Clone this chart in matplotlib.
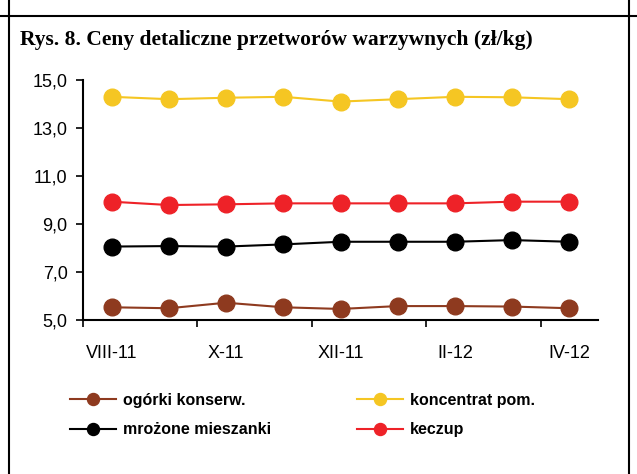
import matplotlib.pyplot as plt
from matplotlib.lines import Line2D
from matplotlib.ticker import FuncFormatter

# months VIII-11 .. IV-12
months = ["VIII-11", "IX-11", "X-11", "XI-11", "XII-11", "I-12", "II-12", "III-12", "IV-12"]
ogorki = [5.53, 5.49, 5.72, 5.53, 5.46, 5.58, 5.58, 5.56, 5.49]
koncentrat = [14.30, 14.20, 14.26, 14.30, 14.10, 14.20, 14.30, 14.28, 14.20]
mrozone = [8.06, 8.08, 8.06, 8.15, 8.26, 8.26, 8.26, 8.33, 8.26]
keczup = [9.93, 9.79, 9.82, 9.86, 9.86, 9.86, 9.86, 9.93, 9.93]

names = ["ogórki konserw.", "koncentrat pom.", "mrożone mieszanki", "keczup"]
colors = ["#8E3A1F", "#F5C623", "#000000", "#EE2228"]

fig = plt.figure(figsize=(6.37, 4.74), dpi=100)
W, H = 637, 474

# frame lines (table cell look)
fig.add_artist(Line2D([9 / W, 9 / W], [0, 1], color="black", lw=1.5))
fig.add_artist(Line2D([629 / W, 629 / W], [0, 1], color="black", lw=1.5))
fig.add_artist(Line2D([0, 1], [1 - 16 / H, 1 - 16 / H], color="black", lw=1.5))

fig.text(20 / W, 1 - 45 / H, "Rys. 8. Ceny detaliczne przetworów warzywnych (zł/kg)",
         family="Liberation Serif", fontweight="bold", fontsize=15.5, va="baseline")

ax = fig.add_axes([83 / W, 1 - 320 / H, (598 - 83) / W, 240 / H])
x = list(range(len(months)))
lines = []
for vals, c, n in zip([ogorki, koncentrat, mrozone, keczup], colors, names):
    ln, = ax.plot(x, vals, color=c, lw=1.5, marker="o", markersize=12, label=n)
    lines.append(ln)

ax.set_xlim(-0.5, len(months) - 0.5)
ax.set_ylim(5, 15)
ax.set_yticks([5, 7, 9, 11, 13, 15])
ax.yaxis.set_major_formatter(FuncFormatter(lambda v, p: f"{v:.1f}".replace(".", ",")))
ax.set_xticks([-0.5, 1.5, 3.5, 5.5, 7.5])
ax.set_xticklabels([])
ax.set_xticks(x[::2], minor=True)
ax.set_xticklabels(months[::2], minor=True)
ax.tick_params(axis="x", which="minor", length=0, pad=18, labelsize=13)
ax.tick_params(axis="both", which="major", length=5, width=1.2, direction="out")
ax.tick_params(axis="y", labelsize=13, pad=6)
for lab in ax.get_xticklabels(minor=True) + ax.get_yticklabels():
    lab.set_family("Liberation Sans")
ax.spines["top"].set_visible(False)
ax.spines["right"].set_visible(False)
ax.spines["left"].set_linewidth(1.5)
ax.spines["bottom"].set_linewidth(1.5)

leg_font = {"family": "Liberation Sans", "weight": "bold", "size": 11.5}
fig.legend([lines[0], lines[2]], [names[0], names[2]], loc="upper left",
           bbox_to_anchor=(62 / W, 1 - 385 / H), frameon=False, prop=leg_font,
           handlelength=2.9, handletextpad=0.4, labelspacing=0.9, borderpad=0,
           markerscale=0.72)
fig.legend([lines[1], lines[3]], [names[1], names[3]], loc="upper left",
           bbox_to_anchor=(349 / W, 1 - 385 / H), frameon=False, prop=leg_font,
           handlelength=2.9, handletextpad=0.4, labelspacing=0.9, borderpad=0,
           markerscale=0.72)

fig.savefig("out.png", dpi=100)
